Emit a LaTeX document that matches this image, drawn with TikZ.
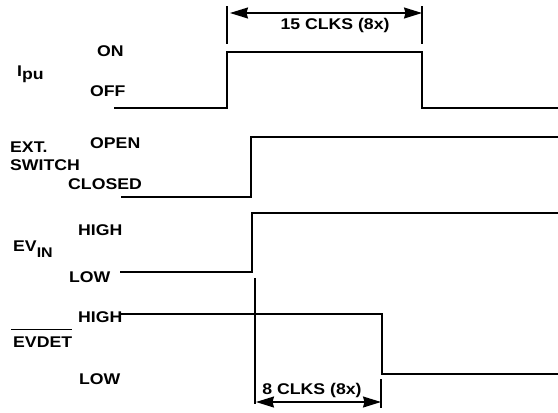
\documentclass[tikz,border=0pt]{standalone}
\usepackage{fontspec}
\setmainfont{Liberation Sans}[FakeStretch=1.14]
\usetikzlibrary{arrows.meta,calc}
\tikzset{
  wave/.style={line width=1.4bp, line join=miter},
  dimtick/.style={line width=1.4bp},
  dimarrow/.style={line width=1.4bp, {Stealth[length=18bp,width=11bp,inset=1.5bp]}-{Stealth[length=18bp,width=11bp,inset=1.5bp]}},
  lbl/.style={inner sep=0pt, font=\fontsize{15.5bp}{17bp}\selectfont\bfseries},
}
\begin{document}
\begin{tikzpicture}[x=1bp,y=-1bp]
\useasboundingbox (0,0) rectangle (558,412);
% labels
\node[lbl,anchor=west] (on) at (97,51) {ON};
\node[lbl,anchor=west] (off) at (90,91) {OFF};
\node[lbl,anchor=base west] (ipu) at (17,76) {I\raisebox{-3bp}{pu}};
\node[lbl,anchor=west] (open) at (90,143) {OPEN};
\node[lbl,anchor=west] (ext) at (10,147) {EXT.};
\node[lbl,anchor=west] (switch) at (10,165) {SWITCH};
\node[lbl,anchor=west] (closed) at (68,184) {CLOSED};
\node[lbl,anchor=west] (high1) at (78,230) {HIGH};
\node[lbl,anchor=base west] (evin) at (13,251) {EV\raisebox{-6bp}{\fontsize{14bp}{15bp}\selectfont IN}};
\node[lbl,anchor=west] (low1) at (69,277) {LOW};
\node[lbl,anchor=west] (high2) at (78,317) {HIGH};
\node[lbl,anchor=west] (evdet) at (13,342) {EVDET};
\node[lbl,anchor=west] (low2) at (79,379) {LOW};
\draw[line width=1.4bp] ($(evdet.north west)+(-2,-7)$) -- ($(evdet.north east)+(0,-7)$);
% waveforms
\draw[wave] (114,108) -- (227,108) -- (227,52) -- (422,52) -- (422,108) -- (558,108);
\draw[wave] (121,197) -- (251,197) -- (251,137) -- (558,137);
\draw[wave] (120,272) -- (252,272) -- (252,213) -- (558,213);
\draw[wave] (120,314) -- (382,314) -- (382,374) -- (558,374);
% 15 clks dimension
\coordinate (t1a) at (227,6);
\coordinate (t1b) at (227,44);
\coordinate (t2a) at (422,6);
\coordinate (t2b) at (422,44);
\draw[dimtick] (t1a) -- (t1b);
\draw[dimtick] (t2a) -- (t2b);
\coordinate (a1) at (230,13);
\coordinate (a2) at (422,13);
\draw[dimarrow] (a1) -- (a2);
\node[lbl] (clk15) at (335,25) {15 CLKS (8x)};
% 8 clks dimension
\coordinate (t3a) at (255,278);
\coordinate (t3b) at (255,404);
\coordinate (t4a) at (381,379);
\coordinate (t4b) at (381,408);
\draw[dimtick] (t3a) -- (t3b);
\draw[dimtick] (t4a) -- (t4b);
\coordinate (b1) at (256,402);
\coordinate (b2) at (381,402);
\draw[dimarrow] (b1) -- (b2);
\node[lbl] (clk8) at (312,390) {8 CLKS (8x)};
\end{tikzpicture}
\end{document}
